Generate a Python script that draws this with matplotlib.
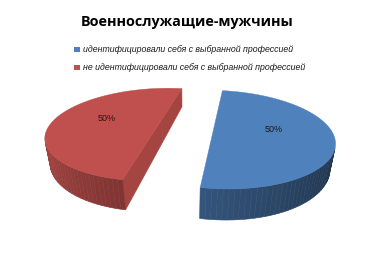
import numpy as np
import matplotlib
matplotlib.use("Agg")
import matplotlib.pyplot as plt
from matplotlib.patches import Polygon
from matplotlib.colors import to_rgb

# ---- data ----
title = "Военнослужащие-мужчины"
categories = ["идентифицировали себя с выбранной профессией",
              "не идентифицировали себя с выбранной профессией"]
values = [50, 50]
colors = ["#4F81BD", "#C0504D"]

# ---- 3D view (camera) parameters ----
TX, PHI, DIST, FOC, PX, PY = 0.0038, 0.4034, 2.8085, 305.44, 188.34, 121.41
ROT = -0.1697          # pie rotation (rad)
EXPLODE = 0.2485       # explosion distance (radius units)
HEIGHT = 0.2376        # pie thickness (radius units)
LABEL_R, LABEL_OFF = 0.52, np.deg2rad(-6)

CAM = np.array([TX, -DIST * np.cos(PHI), DIST * np.sin(PHI)])


def proj(P):
    P = np.asarray(P, float)
    u, v, z = P[..., 0] - TX, P[..., 1], P[..., 2]
    s, c = np.sin(PHI), np.cos(PHI)
    yc = v * s + z * c
    w = DIST + v * c - z * s
    return np.stack([PX + FOC * u / w, PY - FOC * yc / w], -1)


def ring(cx, cy, angs, z):
    return np.stack([cx + np.cos(angs), cy + np.sin(angs), np.full_like(angs, z)], -1)


def visible(n, p):
    return np.dot(n, CAM - p) > 0


fig = plt.figure(figsize=(3.75, 2.6), dpi=100)
ax = fig.add_axes([0, 0, 1, 1])
ax.set_xlim(0, 375)
ax.set_ylim(260, 0)
ax.axis('off')

total = float(sum(values))
start = np.pi / 2 + ROT
N = 90
for val, col in zip(values, colors):
    sweep = 2 * np.pi * val / total
    a0, a1 = start, start - sweep
    bis = (a0 + a1) / 2
    cx, cy = EXPLODE * np.cos(bis), EXPLODE * np.sin(bis)
    base = np.array(to_rgb(col))
    angs = np.linspace(a0, a1, N)
    top = ring(cx, cy, angs, 0.0)
    bot = ring(cx, cy, angs, -HEIGHT)
    ctop = np.array([cx, cy, 0.0])
    cbot = np.array([cx, cy, -HEIGHT])
    # cut faces
    for a, nrm in [(a0, np.array([-np.sin(a0), np.cos(a0), 0.0])),
                   (a1, np.array([np.sin(a1), -np.cos(a1), 0.0]))]:
        rt = np.array([cx + np.cos(a), cy + np.sin(a), 0.0])
        rb = rt.copy(); rb[2] = -HEIGHT
        quad = np.array([ctop, rt, rb, cbot])
        if visible(nrm, quad.mean(0)):
            fc = np.clip(base * 0.86, 0, 1)
            ax.add_patch(Polygon(proj(quad), closed=True, fc=fc, ec=fc, lw=0.4))
    # outer side
    for i in range(N - 1):
        am = (angs[i] + angs[i + 1]) / 2
        nrm = np.array([np.cos(am), np.sin(am), 0.0])
        quad = np.array([top[i], top[i + 1], bot[i + 1], bot[i]])
        if visible(nrm, quad.mean(0)):
            fac = 0.62 + 0.24 * (-np.cos(am))
            fc = np.clip(base * fac, 0, 1)
            ax.add_patch(Polygon(proj(quad), closed=True, fc=fc, ec=fc, lw=0.4))
    # top face
    ax.add_patch(Polygon(proj(np.vstack([ctop[None], top])), closed=True,
                         fc=base, ec=base, lw=0.3))
    # percentage label
    side = 1 if np.cos(bis) > 0 else -1
    la = bis + side * LABEL_OFF
    lp = proj([cx + LABEL_R * np.cos(la), cy + LABEL_R * np.sin(la), 0.0])
    ax.text(lp[0], lp[1], "%d%%" % round(100 * val / total), ha='center', va='center',
            fontsize=6.5, family=['Liberation Sans', 'DejaVu Sans'], color='#1a1a1a')
    start = a1

fig.canvas.draw()
r = fig.canvas.get_renderer()


def fit_text(t, width):
    w = t.get_window_extent(r).width
    t.set_fontsize(t.get_fontsize() * width / w)


tt = ax.text(187.5, 22, title, ha='center', va='center', fontsize=13, fontweight='bold',
             family=['Open Sans', 'DejaVu Sans'], color='#000000')
fit_text(tt, 211)

leg_y = [49, 67]
leg_w = [210, 223]
for lab, col, y, wd in zip(categories, colors, leg_y, leg_w):
    ax.add_patch(plt.Rectangle((74, y - 2.5), 5.5, 5.5, fc=col, ec='none'))
    t = ax.text(83, y, lab, ha='left', va='center', fontsize=7, style='italic',
                family=['Liberation Sans', 'DejaVu Sans'], color='#1a1a1a')
    fit_text(t, wd)

fig.savefig("out.png", dpi=100)
